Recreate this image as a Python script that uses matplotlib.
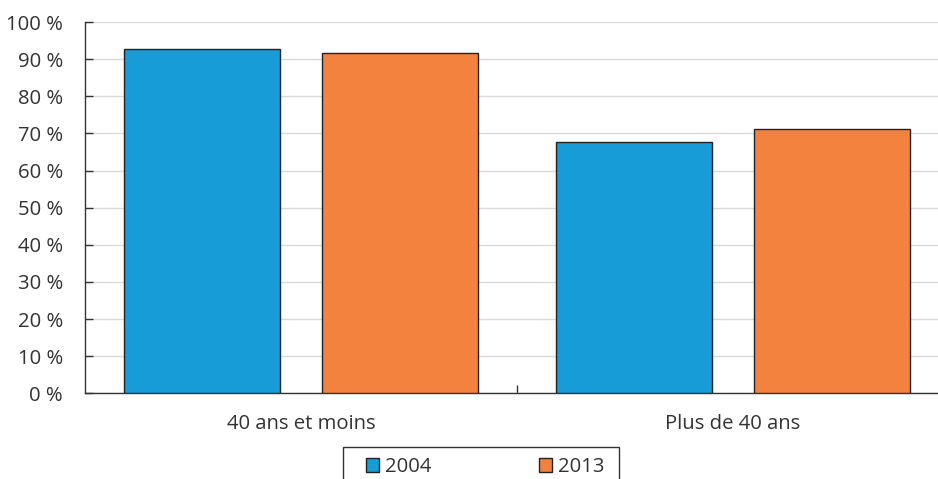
import matplotlib
matplotlib.use("Agg")
import matplotlib.pyplot as plt
from matplotlib.patches import Rectangle
import numpy as np

categories = ["40 ans et moins", "Plus de 40 ans"]
series_names = ["2004", "2013"]
values_2004 = [92.6, 67.8]
values_2013 = [91.6, 71.1]
colors = ["#189CD8", "#F3823E"]
y_ticks = [0, 10, 20, 30, 40, 50, 60, 70, 80, 90, 100]

plt.rcParams["font.family"] = ["Open Sans", "DejaVu Sans"]
text_color = "#333333"
fs = 14.6

W, H = 938, 479
fig = plt.figure(figsize=(W / 100, H / 100), dpi=100)
# axes spans x 85..949 px (right part runs past the canvas), y 22..393 px
ax = fig.add_axes([85 / W, 1 - 393.3 / H, 864 / W, (393.3 - 22) / H])

x = np.arange(len(categories))
width = 0.361
offset = 0.2285
b1 = ax.bar(x - offset, values_2004, width, color=colors[0], edgecolor="#222222",
            linewidth=1.0, label=series_names[0], zorder=3)
b2 = ax.bar(x + offset, values_2013, width, color=colors[1], edgecolor="#222222",
            linewidth=1.0, label=series_names[1], zorder=3)

ax.set_xlim(-0.5, 1.5)
ax.set_ylim(0, 100)
ax.set_yticks(y_ticks)
ax.set_yticklabels([f"{t} %" for t in y_ticks])
ax.yaxis.grid(True, color="#d9d9d9", linewidth=1.0, zorder=0)
ax.set_axisbelow(True)

ax.set_xticks([0.5])
ax.set_xticklabels([""])
ax.tick_params(axis="x", direction="in", length=6, color="#333333", width=1)
ax.tick_params(axis="y", direction="in", length=6, color="#333333", width=1,
               labelsize=fs, labelcolor=text_color, pad=16)
for i, c in enumerate(categories):
    ax.text(i, -8.35, c, ha="center", va="center", fontsize=fs, color=text_color)

for s in ["top", "right"]:
    ax.spines[s].set_visible(False)
for s in ["left", "bottom"]:
    ax.spines[s].set_color("#333333")
    ax.spines[s].set_linewidth(1.0)

# legend box (runs off the bottom edge)
fig.patches.append(Rectangle((343 / W, -0.05), (619 - 343) / W, 0.05 + 1 - 447 / H,
                             transform=fig.transFigure, facecolor="white",
                             edgecolor="#333333", linewidth=1.0, zorder=5))
leg = fig.legend(handles=[b1, b2], labels=series_names, loc="upper left",
                 bbox_to_anchor=(366 / W, 1 - 457 / H), ncol=2, frameon=False,
                 fontsize=fs, handlelength=0.64, handleheight=0.64,
                 handletextpad=0.3, columnspacing=5.3, borderpad=0,
                 labelcolor=text_color, borderaxespad=0)
leg.set_zorder(6)

fig.savefig("out.png", dpi=100)
